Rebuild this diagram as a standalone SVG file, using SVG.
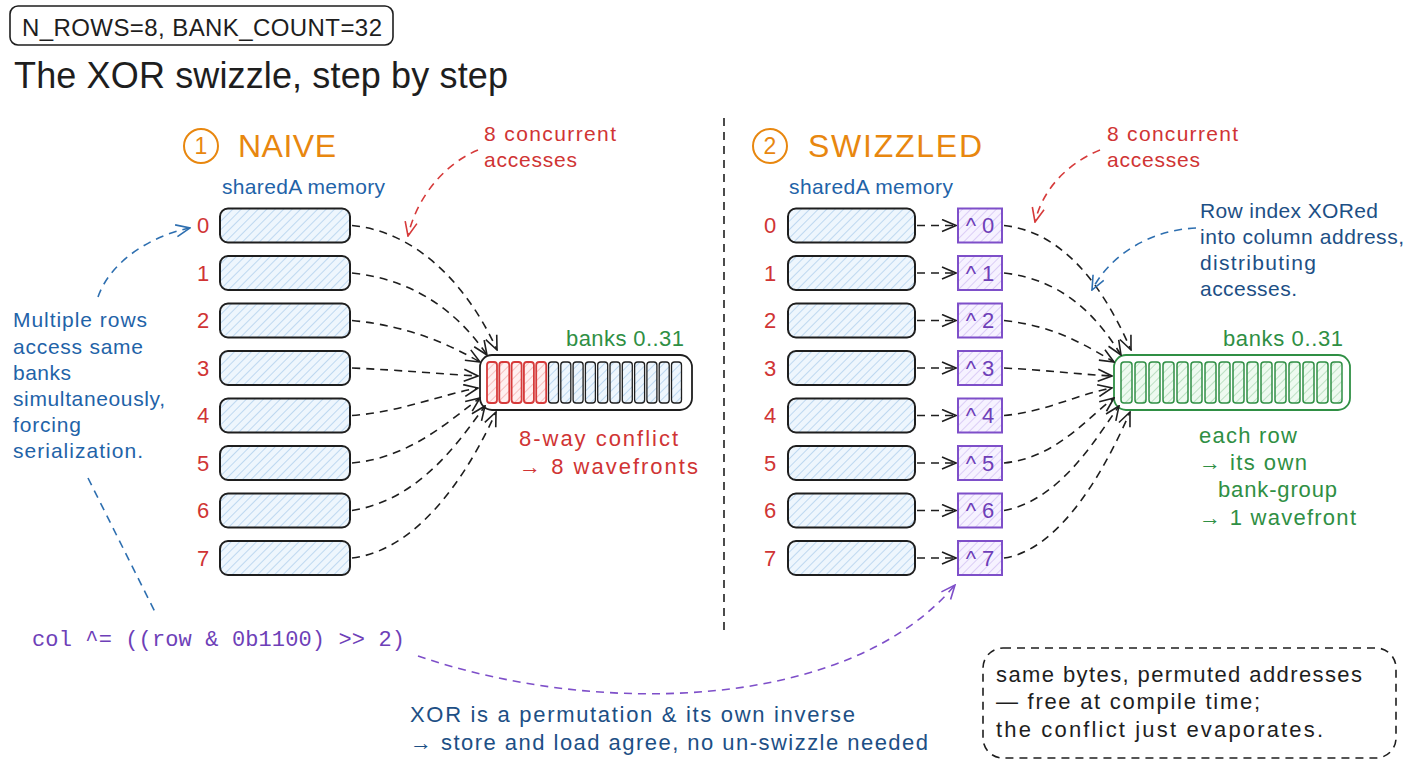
<svg xmlns="http://www.w3.org/2000/svg" width="1408" height="768" viewBox="0 0 1408 768">
<defs>
<pattern id="hb" width="6" height="6" patternUnits="userSpaceOnUse" patternTransform="rotate(45)"><rect width="6" height="6" fill="#eef6fd"/><line x1="0" y1="0" x2="0" y2="6" stroke="#9ec5e8" stroke-width="1.2"/></pattern>
<pattern id="hr" width="6" height="6" patternUnits="userSpaceOnUse" patternTransform="rotate(45)"><rect width="6" height="6" fill="#fff0f0"/><line x1="0" y1="0" x2="0" y2="6" stroke="#f0a0a0" stroke-width="1.2"/></pattern>
<pattern id="hg" width="6" height="6" patternUnits="userSpaceOnUse" patternTransform="rotate(45)"><rect width="6" height="6" fill="#eefaf0"/><line x1="0" y1="0" x2="0" y2="6" stroke="#9ccfa6" stroke-width="1.2"/></pattern>
<pattern id="hp" width="6" height="6" patternUnits="userSpaceOnUse" patternTransform="rotate(45)"><rect width="6" height="6" fill="#f6f2ff"/><line x1="0" y1="0" x2="0" y2="6" stroke="#c9b5f0" stroke-width="1.2"/></pattern>
<marker id="ak" markerWidth="16" markerHeight="14" refX="15" refY="7" orient="auto" markerUnits="userSpaceOnUse"><path d="M1,1 L15,7 L1,13" fill="none" stroke="#1e1e1e" stroke-width="1.6"/></marker>
<marker id="ar" markerWidth="16" markerHeight="14" refX="15" refY="7" orient="auto" markerUnits="userSpaceOnUse"><path d="M1,1 L15,7 L1,13" fill="none" stroke="#d63a3a" stroke-width="1.6"/></marker>
<marker id="ab" markerWidth="16" markerHeight="14" refX="15" refY="7" orient="auto" markerUnits="userSpaceOnUse"><path d="M1,1 L15,7 L1,13" fill="none" stroke="#2e6fb0" stroke-width="1.6"/></marker>
<marker id="ap" markerWidth="16" markerHeight="14" refX="15" refY="7" orient="auto" markerUnits="userSpaceOnUse"><path d="M1,1 L15,7 L1,13" fill="none" stroke="#7e4fc9" stroke-width="1.6"/></marker>
</defs>
<style>
text{font-family:"Liberation Sans","Noto Sans",sans-serif;}
.blk{fill:#1e1e1e}
.red{fill:#d03434}
.blue{fill:#1f63a8}
.navy{fill:#1d4f85}
.green{fill:#2f8f44}
.orange{fill:#e8870f}
.purple{fill:#6e3fb8}
.row{fill:url(#hb);stroke:#1e1e1e;stroke-width:2}
.xor{fill:url(#hp);stroke:#7e4fc9;stroke-width:2}
.cb{fill:url(#hb);stroke:#1e1e1e;stroke-width:1.3}
.cr{fill:url(#hr);stroke:#d63a3a;stroke-width:1.8}
.cg{fill:url(#hg);stroke:#2f8f44;stroke-width:1.5}
.dk{fill:none;stroke:#1e1e1e;stroke-width:1.6;stroke-dasharray:8 6}
.dr{fill:none;stroke:#d63a3a;stroke-width:1.6;stroke-dasharray:8 6}
.db{fill:none;stroke:#2e6fb0;stroke-width:1.6;stroke-dasharray:8 6}
.dp{fill:none;stroke:#7e4fc9;stroke-width:1.6;stroke-dasharray:8 6}
.lbl{font-size:22px;text-anchor:middle}
.t19{font-size:21px}
.t20{font-size:22px}
</style>

<g id="header">
<rect x="10" y="6" width="383" height="39" rx="8" fill="none" stroke="#1e1e1e" stroke-width="1.6"/>
<text x="22" y="36" class="blk" font-size="24" textLength="360">N_ROWS=8, BANK_COUNT=32</text>
</g>
<g id="title"><text x="14" y="88" class="blk" font-size="36" textLength="494">The XOR swizzle, step by step</text></g>

<g id="divider"><path d="M724,118 L724,636" class="dk"/></g>

<!-- LEFT PANEL -->
<g id="naive-title">
<circle cx="201" cy="146" r="17" fill="none" stroke="#e8870f" stroke-width="2"/>
<text x="201" y="154" class="orange" font-size="23" text-anchor="middle">1</text>
<text x="238" y="157" class="orange" font-size="32" textLength="98">NAIVE</text>
</g>
<g id="naive-concurrent">
<text x="484" y="141" class="red t19" textLength="132">8 concurrent</text>
<text x="484" y="167" class="red t19" textLength="93">accesses</text>
</g>
<g id="naive-mem-label"><text x="222" y="194" class="blue t19" textLength="163">sharedA memory</text></g>

<g id="naive-rows">
<rect x="220" y="208.5" width="130" height="34" rx="8" class="row"/>
<rect x="220" y="256" width="130" height="34" rx="8" class="row"/>
<rect x="220" y="303.5" width="130" height="34" rx="8" class="row"/>
<rect x="220" y="351" width="130" height="34" rx="8" class="row"/>
<rect x="220" y="398.5" width="130" height="34" rx="8" class="row"/>
<rect x="220" y="446" width="130" height="34" rx="8" class="row"/>
<rect x="220" y="493.5" width="130" height="34" rx="8" class="row"/>
<rect x="220" y="541" width="130" height="34" rx="8" class="row"/>
<text x="203" y="233" class="red lbl">0</text>
<text x="203" y="281" class="red lbl">1</text>
<text x="203" y="328" class="red lbl">2</text>
<text x="203" y="376" class="red lbl">3</text>
<text x="203" y="423" class="red lbl">4</text>
<text x="203" y="471" class="red lbl">5</text>
<text x="203" y="518" class="red lbl">6</text>
<text x="203" y="566" class="red lbl">7</text>
</g>

<g id="naive-banks">
<text x="566" y="346" class="green t20" textLength="118">banks 0..31</text>
<rect x="480" y="355" width="212" height="55" rx="12" fill="#ffffff" stroke="#1e1e1e" stroke-width="1.8"/>
<rect x="487" y="362" width="10" height="41" rx="3" class="cr"/>
<rect x="499.3" y="362" width="10" height="41" rx="3" class="cr"/>
<rect x="511.6" y="362" width="10" height="41" rx="3" class="cr"/>
<rect x="523.9" y="362" width="10" height="41" rx="3" class="cr"/>
<rect x="536.2" y="362" width="10" height="41" rx="3" class="cr"/>
<rect x="548.5" y="362" width="10" height="41" rx="3" class="cb"/>
<rect x="560.8" y="362" width="10" height="41" rx="3" class="cb"/>
<rect x="573.1" y="362" width="10" height="41" rx="3" class="cb"/>
<rect x="585.4" y="362" width="10" height="41" rx="3" class="cb"/>
<rect x="597.7" y="362" width="10" height="41" rx="3" class="cb"/>
<rect x="610" y="362" width="10" height="41" rx="3" class="cb"/>
<rect x="622.3" y="362" width="10" height="41" rx="3" class="cb"/>
<rect x="634.6" y="362" width="10" height="41" rx="3" class="cb"/>
<rect x="646.9" y="362" width="10" height="41" rx="3" class="cb"/>
<rect x="659.2" y="362" width="10" height="41" rx="3" class="cb"/>
<rect x="671.5" y="362" width="10" height="41" rx="3" class="cb"/>
</g>
<g id="naive-conflict">
<text x="519" y="446" class="red t20" textLength="159">8-way conflict</text>
<text x="519" y="474" class="red t20" textLength="179">→ 8 wavefronts</text>
</g>
<g id="naive-note">
<text x="13" y="327" class="blue t19" textLength="134">Multiple rows</text>
<text x="13" y="354" class="blue t19" textLength="130">access same</text>
<text x="13" y="380" class="blue t19" textLength="58">banks</text>
<text x="13" y="406" class="blue t19" textLength="152">simultaneously,</text>
<text x="13" y="432" class="blue t19" textLength="68">forcing</text>
<text x="13" y="458" class="blue t19" textLength="130">serialization.</text>
</g>

<!-- RIGHT PANEL -->
<g id="swz-title">
<circle cx="770" cy="146" r="17" fill="none" stroke="#e8870f" stroke-width="2"/>
<text x="770" y="154" class="orange" font-size="23" text-anchor="middle">2</text>
<text x="808" y="157" class="orange" font-size="32" textLength="174">SWIZZLED</text>
</g>
<g id="swz-concurrent">
<text x="1107" y="141" class="red t19" textLength="131">8 concurrent</text>
<text x="1107" y="167" class="red t19" textLength="93">accesses</text>
</g>
<g id="swz-mem-label"><text x="789" y="194" class="blue t19" textLength="164">sharedA memory</text></g>

<g id="swz-rows">
<rect x="788" y="208.5" width="127" height="34" rx="8" class="row"/>
<rect x="788" y="256" width="127" height="34" rx="8" class="row"/>
<rect x="788" y="303.5" width="127" height="34" rx="8" class="row"/>
<rect x="788" y="351" width="127" height="34" rx="8" class="row"/>
<rect x="788" y="398.5" width="127" height="34" rx="8" class="row"/>
<rect x="788" y="446" width="127" height="34" rx="8" class="row"/>
<rect x="788" y="493.5" width="127" height="34" rx="8" class="row"/>
<rect x="788" y="541" width="127" height="34" rx="8" class="row"/>
<text x="770" y="233" class="red lbl">0</text>
<text x="770" y="281" class="red lbl">1</text>
<text x="770" y="328" class="red lbl">2</text>
<text x="770" y="376" class="red lbl">3</text>
<text x="770" y="423" class="red lbl">4</text>
<text x="770" y="471" class="red lbl">5</text>
<text x="770" y="518" class="red lbl">6</text>
<text x="770" y="566" class="red lbl">7</text>
</g>

<g id="swz-xor">
<rect x="958" y="208.5" width="44" height="34" class="xor"/>
<rect x="958" y="256" width="44" height="34" class="xor"/>
<rect x="958" y="303.5" width="44" height="34" class="xor"/>
<rect x="958" y="351" width="44" height="34" class="xor"/>
<rect x="958" y="398.5" width="44" height="34" class="xor"/>
<rect x="958" y="446" width="44" height="34" class="xor"/>
<rect x="958" y="493.5" width="44" height="34" class="xor"/>
<rect x="958" y="541" width="44" height="34" class="xor"/>
<text x="980" y="233" class="purple lbl">^ 0</text>
<text x="980" y="281" class="purple lbl">^ 1</text>
<text x="980" y="328" class="purple lbl">^ 2</text>
<text x="980" y="376" class="purple lbl">^ 3</text>
<text x="980" y="423" class="purple lbl">^ 4</text>
<text x="980" y="471" class="purple lbl">^ 5</text>
<text x="980" y="518" class="purple lbl">^ 6</text>
<text x="980" y="566" class="purple lbl">^ 7</text>
</g>

<g id="swz-banks">
<text x="1223" y="346" class="green t20" textLength="120">banks 0..31</text>
<rect x="1114" y="355" width="236" height="55" rx="12" fill="#ffffff" stroke="#2f8f44" stroke-width="1.8"/>
<rect x="1121" y="362" width="11" height="41" rx="3" class="cg"/>
<rect x="1135" y="362" width="11" height="41" rx="3" class="cg"/>
<rect x="1149" y="362" width="11" height="41" rx="3" class="cg"/>
<rect x="1163" y="362" width="11" height="41" rx="3" class="cg"/>
<rect x="1177" y="362" width="11" height="41" rx="3" class="cg"/>
<rect x="1191" y="362" width="11" height="41" rx="3" class="cg"/>
<rect x="1205" y="362" width="11" height="41" rx="3" class="cg"/>
<rect x="1219" y="362" width="11" height="41" rx="3" class="cg"/>
<rect x="1233" y="362" width="11" height="41" rx="3" class="cg"/>
<rect x="1247" y="362" width="11" height="41" rx="3" class="cg"/>
<rect x="1261" y="362" width="11" height="41" rx="3" class="cg"/>
<rect x="1275" y="362" width="11" height="41" rx="3" class="cg"/>
<rect x="1289" y="362" width="11" height="41" rx="3" class="cg"/>
<rect x="1303" y="362" width="11" height="41" rx="3" class="cg"/>
<rect x="1317" y="362" width="11" height="41" rx="3" class="cg"/>
<rect x="1331" y="362" width="11" height="41" rx="3" class="cg"/>
</g>
<g id="swz-note">
<text x="1200" y="218" class="navy t19" textLength="178">Row index XORed</text>
<text x="1200" y="244" class="navy t19" textLength="204">into column address,</text>
<text x="1200" y="270" class="navy t19" textLength="116">distributing</text>
<text x="1200" y="296" class="navy t19" textLength="97">accesses.</text>
</g>
<g id="swz-result">
<text x="1199" y="443" class="green t20" textLength="98">each row</text>
<text x="1199" y="470" class="green t20" textLength="108">→ its own</text>
<text x="1218" y="497" class="green t20" textLength="119">bank-group</text>
<text x="1199" y="525" class="green t20" textLength="157">→ 1 wavefront</text>
</g>

<!-- BOTTOM -->
<g id="formula"><text x="32" y="646" class="purple" style="font-family:'Liberation Mono',monospace" font-size="22" textLength="373">col ^= ((row &amp; 0b1100) &gt;&gt; 2)</text></g>
<g id="xor-note">
<text x="410" y="722" class="navy t20" textLength="445">XOR is a permutation &amp; its own inverse</text>
<text x="410" y="750" class="navy t20" textLength="518">→ store and load agree, no un-swizzle needed</text>
</g>
<g id="summary">
<rect x="983" y="648" width="413" height="110" rx="20" class="dk"/>
<text x="996" y="682" class="blk t20" textLength="366">same bytes, permuted addresses</text>
<text x="996" y="709" class="blk t20" textLength="264">— free at compile time;</text>
<text x="996" y="737" class="blk t20" textLength="327">the conflict just evaporates.</text>
</g>

<g id="connectors">
<!-- naive rows to banks -->
<path d="M352,225.5 C420,232 470,290 497,350" class="dk" marker-end="url(#ak)"/>
<path d="M352,273 C420,280 462,318 487,355" class="dk" marker-end="url(#ak)"/>
<path d="M352,320.5 C410,326 450,345 480,362" class="dk" marker-end="url(#ak)"/>
<path d="M352,368 C400,370 440,374 478,376" class="dk" marker-end="url(#ak)"/>
<path d="M352,415.5 C400,412 440,395 478,388" class="dk" marker-end="url(#ak)"/>
<path d="M352,463 C410,458 450,420 480,398" class="dk" marker-end="url(#ak)"/>
<path d="M352,510.5 C420,500 460,440 485,406" class="dk" marker-end="url(#ak)"/>
<path d="M352,558 C420,550 470,470 496,412" class="dk" marker-end="url(#ak)"/>
<!-- swizzled rows to xor boxes -->
<path d="M917,225.5 L956,225.5" class="dk" marker-end="url(#ak)"/>
<path d="M917,273 L956,273" class="dk" marker-end="url(#ak)"/>
<path d="M917,320.5 L956,320.5" class="dk" marker-end="url(#ak)"/>
<path d="M917,368 L956,368" class="dk" marker-end="url(#ak)"/>
<path d="M917,415.5 L956,415.5" class="dk" marker-end="url(#ak)"/>
<path d="M917,463 L956,463" class="dk" marker-end="url(#ak)"/>
<path d="M917,510.5 L956,510.5" class="dk" marker-end="url(#ak)"/>
<path d="M917,558 L956,558" class="dk" marker-end="url(#ak)"/>
<!-- xor boxes to banks -->
<path d="M1004,225.5 C1065,232 1105,290 1131,350" class="dk" marker-end="url(#ak)"/>
<path d="M1004,273 C1065,280 1098,318 1121,355" class="dk" marker-end="url(#ak)"/>
<path d="M1004,320.5 C1055,326 1085,345 1114,362" class="dk" marker-end="url(#ak)"/>
<path d="M1004,368 C1045,370 1075,374 1112,376" class="dk" marker-end="url(#ak)"/>
<path d="M1004,415.5 C1045,412 1075,395 1112,388" class="dk" marker-end="url(#ak)"/>
<path d="M1004,463 C1055,458 1085,420 1114,398" class="dk" marker-end="url(#ak)"/>
<path d="M1004,510.5 C1060,500 1095,440 1119,406" class="dk" marker-end="url(#ak)"/>
<path d="M1004,558 C1060,550 1105,470 1130,412" class="dk" marker-end="url(#ak)"/>
<!-- annotations -->
<path d="M478,150 C442,165 416,200 408,236" class="dr" marker-end="url(#ar)"/>
<path d="M1100,150 C1064,165 1042,192 1035,222" class="dr" marker-end="url(#ar)"/>
<path d="M98,297 C110,262 150,236 190,228" class="db" marker-end="url(#ab)"/>
<path d="M1196,228 C1150,230 1110,255 1092,290" class="db" marker-end="url(#ab)"/>
<path d="M88,478 L155,612" class="db"/>
<path d="M418,656 C600,718 850,710 955,585" class="dp" marker-end="url(#ap)"/>
</g>
</svg>
